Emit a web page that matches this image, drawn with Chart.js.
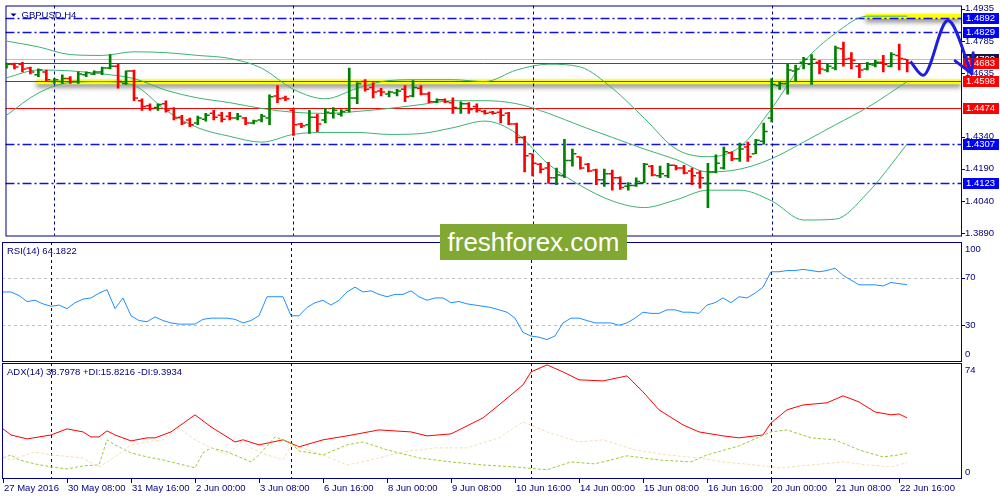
<!DOCTYPE html>
<html lang="en">
<head>
<meta charset="UTF-8">
<script src="https://cdn.jsdelivr.net/npm/chart.js"></script>
<style>
  body { margin: 0; background: #fff; }
  #wrap { position: relative; width: 1000px; height: 500px; overflow: hidden; background: #fff; }
  canvas { position: absolute; left: 0; }
  #mainChart { top: 0; }
  #rsiChart { top: 241px; }
  #adxChart { top: 362px; }
  .logo {
    position: absolute; left: 440px; top: 224px; width: 187px; height: 36px;
    background: #80a832; color: #fff; z-index: 5;
    font: 26px 'Liberation Sans', Arial, sans-serif; line-height: 36px; text-align: center;
  }
</style>
</head>
<body>
<div id="wrap">
  <canvas id="mainChart" width="1000" height="241"></canvas>
  <canvas id="rsiChart" width="1000" height="121"></canvas>
  <canvas id="adxChart" width="1000" height="138"></canvas>
  <div class="logo">freshforex.com</div>
</div>
<script>
// ---- GBPUSD H4 bars, 27 May 2016 00:00 .. 22 Jun 2016 20:00 ----
const opens = [1.4668,1.4677,1.4677,1.4659,1.4628,1.4641,1.4596,1.4596,1.4610,1.4596,
  1.4628,1.4632,1.4641,1.4659,1.4668,1.4587,1.4646,1.4507,1.4484,1.4475,
  1.4493,1.4471,1.4430,1.4417,1.4403,1.4421,1.4448,1.4439,1.4435,1.4426,
  1.4426,1.4403,1.4417,1.4426,1.4529,1.4520,1.4462,1.4399,1.4395,1.4430,
  1.4417,1.4448,1.4444,1.4462,1.4520,1.4596,1.4569,1.4552,1.4538,1.4543,
  1.4560,1.4529,1.4565,1.4538,1.4502,1.4511,1.4498,1.4471,1.4493,1.4480,
  1.4457,1.4453,1.4453,1.4448,1.4399,1.4336,1.4260,1.4211,1.4193,1.4148,
  1.4157,1.4228,1.4246,1.4211,1.4184,1.4139,1.4166,1.4148,1.4108,1.4112,
  1.4125,1.4202,1.4157,1.4157,1.4206,1.4193,1.4179,1.4170,1.4121,1.4175,
  1.4193,1.4264,1.4237,1.4291,1.4260,1.4318,1.4426,1.4578,1.4587,1.4646,
  1.4686,1.4677,1.4686,1.4650,1.4659,1.4749,1.4704,1.4668,1.4655,1.4673,
  1.4686,1.4668,1.4718,1.4700];
const highs = [1.4682,1.4682,1.4686,1.4664,1.4655,1.4650,1.4610,1.4628,1.4619,1.4641,
  1.4641,1.4646,1.4664,1.4722,1.4677,1.4646,1.4650,1.4516,1.4493,1.4493,
  1.4507,1.4475,1.4439,1.4426,1.4435,1.4448,1.4462,1.4453,1.4453,1.4448,
  1.4430,1.4417,1.4444,1.4534,1.4578,1.4529,1.4471,1.4403,1.4462,1.4444,
  1.4471,1.4475,1.4466,1.4659,1.4592,1.4605,1.4592,1.4565,1.4552,1.4560,
  1.4578,1.4601,1.4578,1.4547,1.4516,1.4516,1.4520,1.4502,1.4498,1.4493,
  1.4462,1.4457,1.4471,1.4453,1.4403,1.4341,1.4260,1.4215,1.4220,1.4193,
  1.4327,1.4282,1.4246,1.4215,1.4188,1.4188,1.4184,1.4152,1.4125,1.4148,
  1.4215,1.4206,1.4202,1.4215,1.4206,1.4206,1.4193,1.4179,1.4215,1.4255,
  1.4291,1.4269,1.4309,1.4314,1.4327,1.4403,1.4610,1.4596,1.4677,1.4673,
  1.4709,1.4722,1.4695,1.4677,1.4762,1.4780,1.4731,1.4677,1.4686,1.4695,
  1.4718,1.4731,1.4771,1.4700];
const lows = [1.4659,1.4655,1.4641,1.4632,1.4619,1.4596,1.4587,1.4587,1.4587,1.4587,
  1.4619,1.4628,1.4628,1.4655,1.4565,1.4583,1.4507,1.4462,1.4462,1.4462,
  1.4453,1.4417,1.4395,1.4386,1.4395,1.4412,1.4417,1.4408,1.4417,1.4417,
  1.4395,1.4399,1.4408,1.4395,1.4498,1.4507,1.4345,1.4381,1.4354,1.4363,
  1.4403,1.4426,1.4435,1.4453,1.4493,1.4552,1.4520,1.4529,1.4525,1.4529,
  1.4502,1.4525,1.4534,1.4498,1.4498,1.4498,1.4448,1.4448,1.4448,1.4453,
  1.4444,1.4444,1.4403,1.4395,1.4309,1.4175,1.4157,1.4170,1.4121,1.4116,
  1.4148,1.4202,1.4188,1.4175,1.4116,1.4108,1.4090,1.4094,1.4090,1.4108,
  1.4125,1.4157,1.4148,1.4148,1.4184,1.4166,1.4116,1.4099,1.4009,1.4170,
  1.4188,1.4228,1.4224,1.4224,1.4260,1.4305,1.4408,1.4560,1.4538,1.4596,
  1.4655,1.4583,1.4632,1.4641,1.4650,1.4668,1.4655,1.4614,1.4650,1.4664,
  1.4641,1.4664,1.4650,1.4641];
const closes = [1.4677,1.4664,1.4655,1.4641,1.4650,1.4605,1.4605,1.4610,1.4596,1.4632,
  1.4637,1.4641,1.4659,1.4668,1.4596,1.4646,1.4520,1.4480,1.4471,1.4489,
  1.4462,1.4426,1.4403,1.4395,1.4426,1.4439,1.4430,1.4421,1.4426,1.4435,
  1.4403,1.4412,1.4435,1.4525,1.4516,1.4516,1.4395,1.4390,1.4430,1.4399,
  1.4453,1.4462,1.4457,1.4520,1.4587,1.4560,1.4547,1.4547,1.4547,1.4552,
  1.4525,1.4569,1.4538,1.4502,1.4511,1.4502,1.4475,1.4493,1.4466,1.4462,
  1.4448,1.4448,1.4439,1.4399,1.4336,1.4251,1.4215,1.4188,1.4148,1.4161,
  1.4228,1.4260,1.4193,1.4179,1.4139,1.4166,1.4148,1.4103,1.4112,1.4130,
  1.4211,1.4161,1.4166,1.4206,1.4193,1.4170,1.4157,1.4148,1.4175,1.4215,
  1.4269,1.4237,1.4282,1.4246,1.4323,1.4363,1.4583,1.4587,1.4650,1.4655,
  1.4700,1.4700,1.4655,1.4668,1.4753,1.4700,1.4695,1.4650,1.4677,1.4686,
  1.4677,1.4722,1.4704,1.4683];

// Bollinger Bands (20) read at every 4th bar
const bbIdx = [0,4,8,12,16,20,24,28,32,36,40,44,48,52,56,60,64,68,72,76,80,84,88,92,96,100,104,108,113];
const bbUpper = [1.4785,1.4758,1.4722,1.4718,1.4735,1.4731,1.4718,1.4704,1.4659,1.4560,1.4516,1.4565,1.4601,1.4605,1.4605,
  1.4596,1.4650,1.4677,1.4664,1.4565,1.4426,1.4282,1.4246,1.4291,1.4471,1.4686,1.4821,1.4901,1.4901];
const bbMid = [1.4614,1.4650,1.4646,1.4632,1.4610,1.4556,1.4520,1.4498,1.4471,1.4453,1.4448,1.4457,1.4471,1.4489,1.4507,
  1.4507,1.4493,1.4448,1.4390,1.4336,1.4282,1.4233,1.4175,1.4188,1.4237,1.4314,1.4395,1.4475,1.4596];
const bbLower = [1.4439,1.4543,1.4592,1.4596,1.4578,1.4462,1.4381,1.4341,1.4314,1.4350,1.4359,1.4359,1.4350,1.4354,1.4381,
  1.4412,1.4354,1.4211,1.4112,1.4040,1.4009,1.4045,1.4090,1.4090,1.4040,1.3951,1.3955,1.4076,1.4305];

// RSI(14), one value per bar
const rsi = [58,58,55,50,51,48,46,47,44,49,52,53,57,60,44,53,38,34,33,37,
  34,32,31,31,31,35,36,36,36,35,32,34,38,54,54,54,38,38,45,49,
  51,47,51,58,62,58,59,56,54,56,56,59,54,51,53,53,49,50,48,47,
  46,45,43,41,36,24,21,20,18,21,32,36,36,34,32,32,32,30,32,36,
  41,40,40,43,43,41,41,40,47,49,53,49,54,53,57,62,75,75,76,76,
  77,76,75,76,78,72,68,64,64,64,63,66,65,64.18];

// ADX(14) with +DI / -DI
const adxIdx = [0,1,3,6,8,10,11,12,13,14,16,18,19,21,24,26,29,30,32,35,37,40,43,47,51,53,56,60,62,65,66,68,70,72,75,78,80,82,85,87,90,92,95,96,98,100,103,105,107,109,111,112,113];
const adxVal = [31.6,27.6,25.0,27.6,31.6,29.6,26.3,26.3,30.3,27.6,23.7,25.7,25.7,29.6,40.8,32.9,23.0,24.4,21.1,24.4,
  19.8,24.4,27.0,30.9,29.6,27.0,28.3,38.8,47.3,60.5,69.0,73.6,69.0,63.8,63.1,66.4,55.9,44.1,34.2,29.6,
  27.0,25.7,27.6,35.5,44.1,47.3,48.7,53.3,49.3,42.7,40.8,41.4,38.8];
const pdiIdx = [0,1,2,4,6,8,10,12,13,14,16,18,20,24,25,26,28,31,32,34,36,37,40,43,45,48,52,56,60,64,68,71,74,78,82,86,88,92,96,98,101,104,107,110,112,113];
const pdiVal = [12.5,14.5,11.2,8.6,6.6,5.3,7.3,7.9,24.4,21.1,15.8,13.2,11.2,6.0,15.8,19.1,16.5,9.9,14.5,26.3,
  22.4,17.1,14.5,21.1,23.0,17.8,12.5,9.9,7.9,6.6,4.7,9.9,8.6,13.9,11.2,9.9,14.5,20.4,29.6,30.9,
  25.7,24.4,17.8,13.2,14.5,15.82];
const mdiIdx = [0,1,4,6,10,12,14,16,18,20,22,24,26,28,30,31,33,35,36,37,40,43,46,50,54,58,62,65,68,72,75,79,83,87,90,94,97,101,105,108,111,113];
const mdiVal = [13.2,11.2,16.5,14.5,12.5,6.6,13.2,21.1,23.0,24.4,32.3,24.4,19.1,14.5,24.4,19.1,14.5,11.2,20.4,19.8,
  14.5,7.9,11.2,16.5,19.1,19.1,25.7,36.2,29.6,23.0,24.4,17.8,14.5,12.5,9.9,7.9,5.9,7.9,9.9,7.9,6.6,9.39];

// analyst levels and drawings
const blueLevels = [1.4892, 1.4829, 1.4307, 1.4123];
const redLevels = [1.4683, 1.4598, 1.4474];
const bidPrice = 1.4700;
const zoneFrom = [107.75, 3.75];
const zoneTop = [1.4911, 1.4606];
const zoneBottom = [1.4888, 1.4584];
const forecastIdx = [113.4, 115, 118.1, 121.1];
const forecastPrice = [1.4690, 1.4626, 1.4881, 1.4633];

// axes
const priceTicks = [1.4935, 1.4785, 1.4635, 1.4340, 1.4190, 1.4040, 1.3890];
const rsiTicks = [100, 70, 30, 0];
const rsiLevels = [70, 30];
const adxTicks = [74, 0];
const weekStarts = [6, 36, 66, 96];
const xTickIdx = [0,8,16,24,32,40,48,56,64,72,80,88,96,104,112];
const xTickLabels = ['27 May 2016','30 May 08:00','31 May 16:00','2 Jun 00:00','3 Jun 08:00','6 Jun 16:00',
  '8 Jun 00:00','9 Jun 08:00','10 Jun 16:00','14 Jun 00:00','15 Jun 08:00','16 Jun 16:00',
  '20 Jun 00:00','21 Jun 08:00','22 Jun 16:00'];

const NAVY = '#000080';
const FONT = "9.5px 'Liberation Sans', Arial, sans-serif";
const X_MIN = -0.125, X_MAX = 119.75;

const idx = opens.map((_, i) => i);
const barColors = closes.map((c, i) => c >= opens[i] ? '#008000' : '#ff0000');

function baseOptions(yMin, yMax, pad) {
  return {
    responsive: false,
    animation: false,
    events: [],
    layout: { padding: pad },
    plugins: { legend: { display: false }, tooltip: { enabled: false } },
    scales: {
      x: { type: 'linear', min: X_MIN, max: X_MAX, display: false, offset: false },
      y: { type: 'linear', min: yMin, max: yMax, display: false }
    }
  };
}

function frame(chart) {
  const { ctx, chartArea: a } = chart;
  ctx.save();
  ctx.strokeStyle = NAVY;
  ctx.lineWidth = 1;
  ctx.strokeRect(a.left + 0.5, a.top + 0.5, a.right - a.left, a.bottom - a.top);
  ctx.restore();
}

function weekLines(chart) {
  const { ctx, chartArea: a, scales: { x } } = chart;
  ctx.save();
  ctx.strokeStyle = NAVY;
  ctx.lineWidth = 1;
  ctx.setLineDash([3, 3]);
  weekStarts.forEach(i => {
    const px = Math.round(x.getPixelForValue(i)) + 0.5;
    ctx.beginPath();
    ctx.moveTo(px, a.top);
    ctx.lineTo(px, a.bottom);
    ctx.stroke();
  });
  ctx.restore();
}

function hLine(chart, price, color, dash, width) {
  const { ctx, chartArea: a, scales: { y } } = chart;
  const py = Math.round(y.getPixelForValue(price)) + 0.5;
  ctx.save();
  ctx.strokeStyle = color;
  ctx.lineWidth = width;
  ctx.setLineDash(dash);
  ctx.beginPath();
  ctx.moveTo(a.left, py);
  ctx.lineTo(a.right, py);
  ctx.stroke();
  ctx.restore();
}

function axisText(chart, values, fmt, clampTop, clampBottom, tickValues) {
  const { ctx, chartArea: a, scales: { y } } = chart;
  ctx.save();
  ctx.font = FONT;
  ctx.textBaseline = 'middle';
  ctx.textAlign = 'left';
  ctx.strokeStyle = NAVY;
  ctx.fillStyle = NAVY;
  values.forEach(v => {
    let py = y.getPixelForValue(v);
    if (!tickValues || tickValues.includes(v)) {
      ctx.beginPath();
      ctx.moveTo(a.right, Math.round(py) + 0.5);
      ctx.lineTo(a.right + 4, Math.round(py) + 0.5);
      ctx.stroke();
    }
    py = Math.min(Math.max(py, a.top + clampTop), a.bottom - clampBottom);
    ctx.fillText(fmt(v), a.right + 4, py);
  });
  ctx.restore();
}

function priceBox(chart, price, bg) {
  const { ctx, chartArea: a, scales: { y } } = chart;
  const py = Math.round(y.getPixelForValue(price));
  ctx.save();
  ctx.fillStyle = bg;
  ctx.fillRect(a.right + 2, py - 5, 36, 11);
  ctx.font = FONT;
  ctx.textBaseline = 'middle';
  ctx.fillStyle = '#ffffff';
  ctx.fillText(price.toFixed(4), a.right + 5, py + 0.5);
  ctx.restore();
}

function panelTitle(chart, text) {
  const { ctx, chartArea: a } = chart;
  ctx.save();
  ctx.font = FONT;
  ctx.textBaseline = 'middle';
  ctx.fillStyle = NAVY;
  ctx.fillText(text, a.left + 5, a.top + 9);
  ctx.restore();
}

// ---------- main price panel ----------
const mainDecor = {
  id: 'mainDecor',
  beforeDatasetsDraw(chart) {
    const { ctx, chartArea: a, scales: { x, y } } = chart;
    // highlighted zones
    zoneFrom.forEach((from, k) => {
      const x0 = x.getPixelForValue(from);
      const y0 = y.getPixelForValue(zoneTop[k]);
      const y1 = y.getPixelForValue(zoneBottom[k]);
      ctx.save();
      ctx.shadowColor = 'rgba(0,0,0,0.5)';
      ctx.shadowBlur = 5;
      ctx.shadowOffsetY = 3;
      ctx.fillStyle = '#ffff00';
      ctx.fillRect(x0, y0, a.right - x0, y1 - y0);
      ctx.restore();
    });
    hLine(chart, bidPrice, '#c0c0c0', [], 1);
    redLevels.forEach(p => hLine(chart, p, '#ff0000', [], 1));
    blueLevels.forEach(p => hLine(chart, p, '#1010e0', [9, 3, 2, 3], 1.5));
    weekLines(chart);
    frame(chart);
    // title
    ctx.save();
    ctx.fillStyle = NAVY;
    ctx.beginPath();
    ctx.moveTo(a.left + 5, a.top + 8);
    ctx.lineTo(a.left + 11, a.top + 8);
    ctx.lineTo(a.left + 8, a.top + 11);
    ctx.closePath();
    ctx.fill();
    ctx.font = FONT;
    ctx.textBaseline = 'middle';
    ctx.fillText('GBPUSD,H4', a.left + 16, a.top + 10);
    ctx.restore();
    // price axis
    axisText(chart, priceTicks, v => v.toFixed(4), -10, -10);
    priceBox(chart, bidPrice, '#14143c');
    redLevels.forEach(p => priceBox(chart, p, '#ff0000'));
    blueLevels.forEach(p => priceBox(chart, p, '#0000ff'));
  },
  afterDatasetsDraw(chart) {
    // arrow head at the end of the forecast path
    const meta = chart.getDatasetMeta(chart.data.datasets.length - 1);
    const pts = meta.data;
    const end = pts[pts.length - 1], prev = pts[pts.length - 2];
    const dx = end.x - prev.x, dy = end.y - prev.y;
    const len = Math.hypot(dx, dy);
    const ux = -dx / len, uy = -dy / len;
    const { ctx } = chart;
    ctx.save();
    ctx.strokeStyle = '#1e1ee0';
    ctx.lineWidth = 3;
    ctx.lineCap = 'round';
    [0.49, -0.49].forEach(ang => {
      const cs = Math.cos(ang), sn = Math.sin(ang);
      const bx = ux * cs - uy * sn, by = ux * sn + uy * cs;
      ctx.beginPath();
      ctx.moveTo(end.x, end.y);
      ctx.lineTo(end.x + bx * 21, end.y + by * 21);
      ctx.stroke();
    });
    ctx.restore();
  }
};

const bbLine = (vals) => ({
  type: 'line',
  data: bbIdx.map((i, k) => ({ x: i, y: vals[k] })),
  borderColor: '#3cb371',
  borderWidth: 1,
  pointRadius: 0,
  cubicInterpolationMode: 'monotone',
  order: 4
});

const tickSet = (vals, shift) => ({
  type: 'line',
  showLine: false,
  data: idx.map(i => ({ x: i + shift, y: vals[i] })),
  pointStyle: 'line',
  pointRadius: 1.5,
  pointBorderWidth: 1.5,
  pointBorderColor: barColors,
  order: 2
});

new Chart(document.getElementById('mainChart'), {
  type: 'line',
  data: {
    datasets: [
      bbLine(bbUpper),
      bbLine(bbMid),
      bbLine(bbLower),
      {
        type: 'bar',
        data: idx.map(i => ({ x: i, y: [lows[i], highs[i]] })),
        backgroundColor: barColors,
        borderWidth: 0,
        barThickness: 2,
        order: 3
      },
      tickSet(opens, -0.3125),
      tickSet(closes, 0.3125),
      {
        type: 'line',
        data: forecastIdx.map((i, k) => ({ x: i, y: forecastPrice[k] })),
        borderColor: '#1e1ee0',
        borderWidth: 3,
        pointRadius: 0,
        cubicInterpolationMode: 'monotone',
        clip: false,
        order: 0
      }
    ]
  },
  options: baseOptions(1.38788, 1.49507, { left: 2, right: 39, top: 1, bottom: 1 }),
  plugins: [mainDecor]
});

// ---------- RSI panel ----------
const rsiDecor = {
  id: 'rsiDecor',
  beforeDatasetsDraw(chart) {
    const { ctx, chartArea: a, scales: { y } } = chart;
    rsiLevels.forEach(v => {
      const py = Math.round(y.getPixelForValue(v)) + 0.5;
      ctx.save();
      ctx.strokeStyle = '#c0c0c0';
      ctx.setLineDash([3, 3]);
      ctx.beginPath();
      ctx.moveTo(a.left, py);
      ctx.lineTo(a.right, py);
      ctx.stroke();
      ctx.restore();
    });
    weekLines(chart);
    frame(chart);
    axisText(chart, rsiTicks, v => String(v), 7, 7, rsiLevels);
    panelTitle(chart, 'RSI(14) 64.1822');
  }
};

new Chart(document.getElementById('rsiChart'), {
  type: 'line',
  data: {
    datasets: [{
      data: idx.map(i => ({ x: i, y: rsi[i] })),
      borderColor: '#1e90ff',
      borderWidth: 1,
      pointRadius: 0
    }]
  },
  options: baseOptions(0, 100, { left: 2, right: 39, top: 1, bottom: 1 }),
  plugins: [rsiDecor]
});

// ---------- ADX panel + time axis ----------
const adxDecor = {
  id: 'adxDecor',
  beforeDatasetsDraw(chart) {
    const { ctx, chartArea: a, scales: { x } } = chart;
    weekLines(chart);
    frame(chart);
    axisText(chart, adxTicks, v => String(v), 7, 6, []);
    panelTitle(chart, 'ADX(14) 38.7978 +DI:15.8216 -DI:9.3934');
    ctx.save();
    ctx.strokeStyle = NAVY;
    ctx.fillStyle = NAVY;
    ctx.font = FONT;
    ctx.textBaseline = 'middle';
    xTickIdx.forEach((i, k) => {
      const px = Math.round(x.getPixelForValue(i)) + 0.5;
      ctx.beginPath();
      ctx.moveTo(px, a.bottom + 1);
      ctx.lineTo(px, a.bottom + 5);
      ctx.stroke();
      ctx.fillText(xTickLabels[k], px + 0.5, a.bottom + 10.5);
    });
    ctx.restore();
  }
};

new Chart(document.getElementById('adxChart'), {
  type: 'line',
  data: {
    datasets: [
      {
        data: mdiIdx.map((i, k) => ({ x: i, y: mdiVal[k] })),
        borderColor: '#f5deb3', borderWidth: 1, borderDash: [3, 2], pointRadius: 0
      },
      {
        data: pdiIdx.map((i, k) => ({ x: i, y: pdiVal[k] })),
        borderColor: '#9acd32', borderWidth: 1, borderDash: [3, 2], pointRadius: 0
      },
      {
        data: adxIdx.map((i, k) => ({ x: i, y: adxVal[k] })),
        borderColor: '#ff0000', borderWidth: 1, pointRadius: 0
      }
    ]
  },
  options: baseOptions(-0.66, 74.85, { left: 2, right: 39, top: 1, bottom: 22 }),
  plugins: [adxDecor]
});
</script>
</body>
</html>
